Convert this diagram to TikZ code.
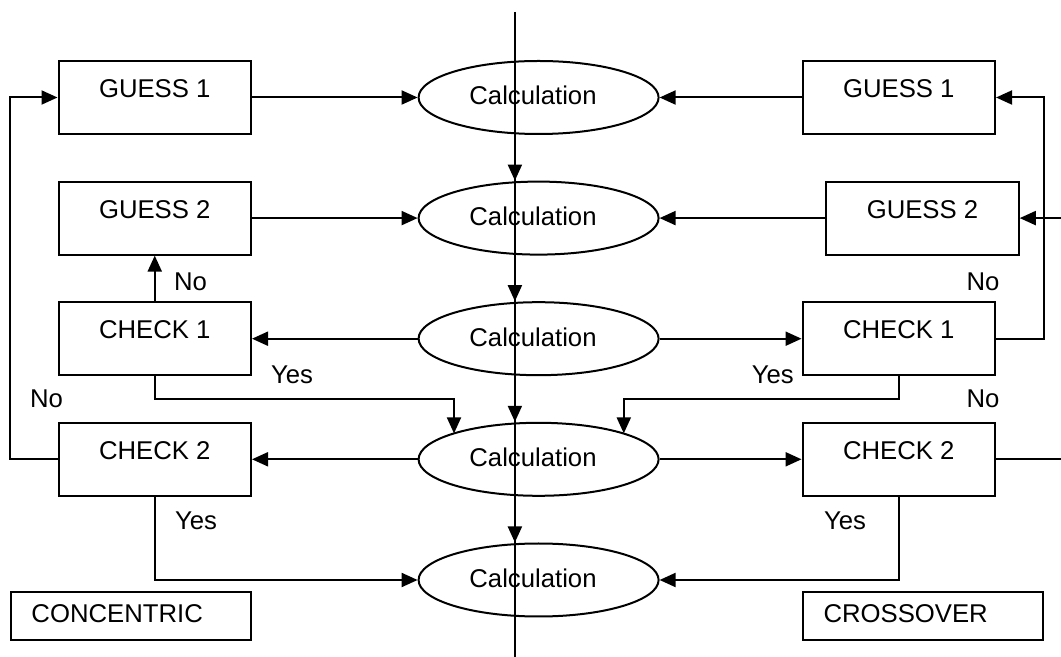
\documentclass[tikz,border=0pt]{standalone}
\usepackage{fontspec}
\setmainfont{Liberation Sans}
\usetikzlibrary{arrows.meta,calc,shapes.geometric}
\tikzset{
  lw/.style={line width=1pt},
  arr/.style={lw,-{Triangle[length=8pt,width=7pt]}},
  txt/.style={font=\fontsize{12.85}{15}\selectfont},
  box/.style={draw,lw,rectangle,inner sep=0pt,minimum width=96.25pt,minimum height=36.5pt,
    text height=8pt,text depth=8pt,txt},
  wide/.style={draw,lw,rectangle,inner ysep=0pt,inner xsep=10.5pt,text width=99.25pt,align=left,
    minimum height=24pt,text height=9.25pt,text depth=2.75pt,txt},
  calcell/.style={draw,lw,ellipse,inner sep=0pt,minimum width=120pt,minimum height=36.5pt},
  lbl/.style={txt,anchor=base,inner sep=0pt}
}
\begin{document}
\begin{tikzpicture}[x=0.5pt,y=-0.5pt]
\useasboundingbox (0,0) rectangle (1061,657);
% ellipses
\node[calcell] (e1) at (538.6,97.5) {};
\node[calcell] (e2) at (538.6,218.1) {};
\node[calcell] (e3) at (538.6,338.7) {};
\node[calcell] (e4) at (538.6,459.3) {};
\node[calcell] (e5) at (538.6,580) {};
\foreach \i/\y in {1/97.5,2/218.1,3/338.7,4/459.3,5/580}{
  \node[lbl] (c\i) at (533,\y+7.5) {Calculation};
}
% left boxes
\node[box] (lg1) at (154.75,97.5) {GUESS 1};
\node[box] (lg2) at (154.75,218.1) {GUESS 2};
\node[box] (lc1) at (154.75,338.7) {CHECK 1};
\node[box] (lc2) at (154.75,459.3) {CHECK 2};
\node[wide] (conc) at (130.75,616) {CONCENTRIC};
% right boxes
\node[box] (rg1) at (898.8,97.5) {GUESS 1};
\node[box] (rg2) at (922.5,218.1) {GUESS 2};
\node[box] (rc1) at (898.8,338.7) {CHECK 1};
\node[box] (rc2) at (898.8,459.3) {CHECK 2};
\node[wide] (cross) at (922.8,616) {CROSSOVER};
% axis
\coordinate (axtop) at (514.9,12);
\coordinate (axbot) at (514.9,657);
\draw[lw] (axtop) -- (axbot);
\draw[arr] (axtop |- e1.south) -- (axtop |- e2.north);
\draw[arr] (axtop |- e2.south) -- (axtop |- e3.north);
\draw[arr] (axtop |- e3.south) -- (axtop |- e4.north);
\draw[arr] (axtop |- e4.south) -- (axtop |- e5.north);
% horizontal connectors
\draw[arr] (lg1) -- (e1);
\draw[arr] (rg1) -- (e1);
\draw[arr] (lg2) -- (e2);
\draw[arr] (rg2) -- (e2);
\draw[arr] (e3) -- (lc1);
\draw[arr] (e3) -- (rc1);
\draw[arr] (e4) -- (lc2);
\draw[arr] (e4) -- (rc2);
% checks
\draw[arr] (lc1) -- (lg2);
\coordinate (t4l) at ($(e4.center)+(-84.6,-25.9)$);
\coordinate (t4r) at ($(e4.center)+(85.2,-25.9)$);
\draw[arr] (lc1.south) -- ++(0,22.5) -| (t4l);
\draw[arr] (rc1.south) -- ++(0,22.5) -| (t4r);
\draw[arr] (lc2.west) -- ++(-48,0) |- (lg1.west);
\draw[arr] (rc1.east) -- ++(48,0) |- (rg1.east);
\coordinate (edgeA) at (1061,218.1);
\coordinate (edgeB) at (1061,459.3);
\draw[arr] (edgeA) -- (rg2.east);
\draw[lw] (rc2.east) -- (edgeB);
\draw[arr] (lc2.south) |- (e5.west);
\draw[arr] (rc2.south) |- (e5.east);
% labels
\node[lbl] (n1) at (190.5,291) {No};
\node[lbl] (y1) at (292,383.4) {Yes};
\node[lbl] (n2) at (46.5,408) {No};
\node[lbl] (y2) at (196,529.5) {Yes};
\node[lbl] (n3) at (983,291) {No};
\node[lbl] (y3) at (772.8,383.4) {Yes};
\node[lbl] (n4) at (983,408) {No};
\node[lbl] (y4) at (845,529.5) {Yes};
\end{tikzpicture}
\end{document}
